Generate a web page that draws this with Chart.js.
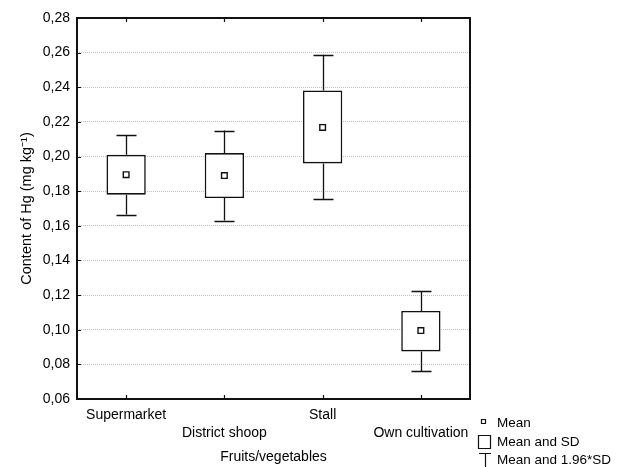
<!DOCTYPE html>
<html>
<head>
<meta charset="utf-8">
<script src="https://cdn.jsdelivr.net/npm/chart.js@4"></script>
<style>
  html, body { margin: 0; padding: 0; background: #fff; }
  #wrap { width: 622px; height: 467px; }
</style>
</head>
<body>
<div id="wrap"><canvas id="grafico"></canvas></div>
<script>
// data
var categories = ['Supermarket', 'District shoop', 'Stall', 'Own cultivation'];
var means = [0.1895, 0.189, 0.2168, 0.0995];
var sdLow = [0.178, 0.176, 0.196, 0.0875];
var sdHigh = [0.201, 0.202, 0.2382, 0.1108];
var ciLow = [0.1665, 0.163, 0.1755, 0.0762];
var ciHigh = [0.2123, 0.2150, 0.2588, 0.1222];
var yTicks = [0.06, 0.08, 0.10, 0.12, 0.14, 0.16, 0.18, 0.20, 0.22, 0.24, 0.26, 0.28];
var legendLabels = ['Mean', 'Mean and SD', 'Mean and 1.96*SD'];

var fuente = 'Liberation Sans, Arial, sans-serif';

(function () {

    function px(v) { return Math.round(v) + 0.5; }

    // whiskers, frame, small tick marks and legend
    var extras = {
        id: 'extras',
        beforeDatasetsDraw: function (chart) {
            var ctx = chart.ctx, x = chart.scales.x, y = chart.scales.y;
            ctx.save();
            ctx.strokeStyle = '#111';
            ctx.lineWidth = 1.3;
            for (var i = 0; i < categories.length; i++) {
                var cx = px(x.getPixelForValue(i));
                var half = 10;
                ctx.beginPath();
                ctx.moveTo(cx, y.getPixelForValue(ciHigh[i]));
                ctx.lineTo(cx, y.getPixelForValue(sdHigh[i]));
                ctx.moveTo(cx, y.getPixelForValue(sdLow[i]));
                ctx.lineTo(cx, y.getPixelForValue(ciLow[i]));
                ctx.stroke();
                var t = px(y.getPixelForValue(ciHigh[i]));
                var b = px(y.getPixelForValue(ciLow[i]));
                ctx.lineWidth = 1.6;
                ctx.beginPath();
                ctx.moveTo(cx - half, t);
                ctx.lineTo(cx + half, t);
                ctx.moveTo(cx - half, b);
                ctx.lineTo(cx + half, b);
                ctx.stroke();
                ctx.lineWidth = 1.3;
            }
            ctx.restore();
        },
        afterDraw: function (chart) {
            var ctx = chart.ctx, a = chart.chartArea, x = chart.scales.x, y = chart.scales.y;
            ctx.save();
            ctx.strokeStyle = '#111';
            ctx.lineWidth = 2;
            ctx.strokeRect(Math.round(a.left), Math.round(a.top), Math.round(a.right - a.left), Math.round(a.bottom - a.top));
            ctx.lineWidth = 1.2;
            ctx.beginPath();
            for (var i = 0; i < categories.length; i++) {
                var cx = px(x.getPixelForValue(i));
                ctx.moveTo(cx, a.bottom);
                ctx.lineTo(cx, a.bottom - 4);
                ctx.moveTo(cx, a.top);
                ctx.lineTo(cx, a.top + 4);
            }
            for (var k = 1; k < yTicks.length - 1; k++) {
                var ty = px(y.getPixelForValue(yTicks[k]));
                ctx.moveTo(a.left, ty);
                ctx.lineTo(a.left + 4, ty);
            }
            ctx.stroke();

            // legend
            var lx = 497;
            var rows = [423, 442, 460];
            ctx.fillStyle = '#000';
            ctx.font = '13.5px ' + fuente;
            ctx.textBaseline = 'middle';
            ctx.textAlign = 'left';
            for (var j = 0; j < legendLabels.length; j++) {
                ctx.fillText(legendLabels[j], lx, rows[j]);
            }
            ctx.lineWidth = 1.2;
            ctx.beginPath();
            ctx.rect(481.5, 419.5, 4, 4);
            ctx.rect(478.5, 435.5, 12, 13);
            ctx.moveTo(479, 453.5);
            ctx.lineTo(491, 453.5);
            ctx.moveTo(485.5, 453.5);
            ctx.lineTo(485.5, 467);
            ctx.stroke();
            ctx.restore();
        }
    };

    var ctx = document.getElementById('grafico').getContext('2d');
    var grafico = new Chart(ctx, {
        type: 'bar',
        data: {
            labels: categories,
            datasets: [{
                type: 'line',
                label: 'Mean',
                data: means,
                showLine: false,
                pointStyle: 'rect',
                pointRadius: 4,
                pointBorderWidth: 1.4,
                pointBorderColor: '#111',
                pointBackgroundColor: '#fff',
                order: 0
            }, {
                label: 'Mean and SD',
                data: categories.map(function (c, i) { return [sdLow[i], sdHigh[i]]; }),
                backgroundColor: '#fff',
                borderColor: '#111',
                borderWidth: 1.6,
                borderSkipped: false,
                barPercentage: 0.4,
                categoryPercentage: 1,
                order: 1
            }]
        },
        options: {
            responsive: true,
            maintainAspectRatio: false,
            animation: false,
            layout: { padding: { top: 18, right: 152, bottom: 0, left: 0 } },
            plugins: {
                legend: { display: false },
                tooltip: { enabled: false }
            },
            scales: {
                x: {
                    offset: true,
                    grid: { display: false, drawTicks: false },
                    border: { display: false },
                    afterFit: function (s) { s.height = 68; },
                    ticks: {
                        color: '#000',
                        padding: 7,
                        maxRotation: 0,
                        autoSkip: false,
                        font: { family: fuente, size: 14, lineHeight: 1.3 },
                        callback: function (v, i) {
                            return i % 2 === 0 ? [categories[i], ''] : ['', categories[i]];
                        }
                    },
                    title: {
                        display: true,
                        text: 'Fruits/vegetables',
                        color: '#000',
                        font: { family: fuente, size: 14, lineHeight: 1.2 },
                        padding: { top: 0, bottom: 1 }
                    }
                },
                y: {
                    min: 0.06,
                    max: 0.28,
                    afterFit: function (s) { s.width = 77; },
                    afterBuildTicks: function (s) {
                        s.ticks = yTicks.map(function (v) { return { value: v }; });
                    },
                    grid: { color: '#c0c0c0', drawTicks: false, lineWidth: 1 },
                    border: { display: false, dash: [1, 1] },
                    ticks: {
                        color: '#000',
                        padding: 7,
                        font: { family: fuente, size: 14 },
                        callback: function (v) { return v.toFixed(2).replace('.', ','); }
                    },
                    title: {
                        display: true,
                        text: 'Content of Hg (mg kg\u207B\u00B9)',
                        color: '#000',
                        font: { family: fuente, size: 14.5, lineHeight: 1.2 },
                        padding: { top: 18, bottom: 0 }
                    }
                }
            }
        },
        plugins: [extras]
    });

})();
</script>
</body>
</html>
